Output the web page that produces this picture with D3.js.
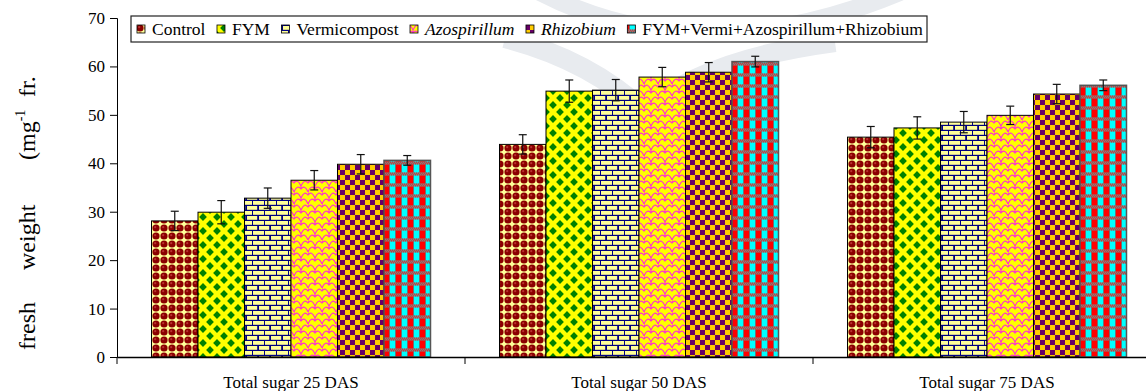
<!DOCTYPE html>
<html><head><meta charset="utf-8">
<script src="https://cdn.jsdelivr.net/npm/d3@7"></script>
<style>
html,body{margin:0;padding:0;background:#fff;}
svg{display:block;}
svg text{font-family:"Liberation Serif","Times New Roman",serif;}
</style></head>
<body><svg id="c" width="1146" height="391"></svg>
<script>
// ---------- data ----------
const categories = ["Total sugar 25 DAS", "Total sugar 50 DAS", "Total sugar 75 DAS"];
const treatments = ["Control", "FYM", "Vermicompost", "Azospirillum", "Rhizobium", "FYM+Vermi+Azospirillum+Rhizobium"];
const controlVals = [28.1, 43.9, 45.4];
const fymVals     = [29.9, 54.9, 47.3];
const vermiVals   = [32.8, 55.1, 48.5];
const azoVals     = [36.5, 57.8, 49.9];
const rhizoVals   = [39.8, 58.8, 54.3];
const comboVals   = [40.6, 61.0, 56.1];
const controlErr = [2.0, 2.0, 2.2];
const fymErr     = [2.4, 2.3, 2.3];
const vermiErr   = [2.1, 2.2, 2.2];
const azoErr     = [2.0, 2.0, 1.9];
const rhizoErr   = [2.0, 2.0, 2.0];
const comboErr   = [1.0, 1.1, 1.1];
const yTicks = [0, 10, 20, 30, 40, 50, 60, 70];

const seriesVals = [controlVals, fymVals, vermiVals, azoVals, rhizoVals, comboVals];
const seriesErr = [controlErr, fymErr, vermiErr, azoErr, rhizoErr, comboErr];
const italicFlags = [false, false, false, true, true, false];
const FONT = "Liberation Serif, Times New Roman, serif";

const svg = d3.select("#c");

// ---------- patterns ----------
const defs = svg.append("defs");
function pat(id, w, h) {
  return defs.append("pattern").attr("id", id).attr("patternUnits", "userSpaceOnUse")
    .attr("width", w).attr("height", h);
}
// Control: maroon balls on light yellow
{
  const p = pat("p0", 8, 8);
  p.append("rect").attr("width", 8).attr("height", 8).attr("fill", "#FFFF99");
  p.append("circle").attr("cx", 4).attr("cy", 4).attr("r", 3.6).attr("fill", "#8B0000");
  p.append("circle").attr("cx", 3.2).attr("cy", 3.2).attr("r", 1.1).attr("fill", "#B83030");
}
// FYM: green diamonds on yellow
{
  const p = pat("p1", 14, 14);
  p.append("rect").attr("width", 14).attr("height", 14).attr("fill", "#FFFF00");
  const s = 3.9;
  const dia = (cx, cy) => `M${cx},${cy - s}L${cx + s},${cy}L${cx},${cy + s}L${cx - s},${cy}Z`;
  p.append("path").attr("d", dia(7, 7) + dia(0, 0) + dia(14, 0) + dia(0, 14) + dia(14, 14)).attr("fill", "#008000");
}
// Vermicompost: bricks
{
  const p = pat("p2", 12, 10);
  p.append("rect").attr("width", 12).attr("height", 10).attr("fill", "#000080");
  p.append("rect").attr("x", 1).attr("y", 1).attr("width", 11).attr("height", 3.8).attr("fill", "#FFFF99");
  p.append("rect").attr("x", -5).attr("y", 6).attr("width", 10.2).attr("height", 3.8).attr("fill", "#FFFF99");
  p.append("rect").attr("x", 7).attr("y", 6).attr("width", 11).attr("height", 3.8).attr("fill", "#FFFF99");
}
// Azospirillum: magenta scales on yellow
{
  const p = pat("p3", 14, 12);
  p.append("rect").attr("width", 14).attr("height", 12).attr("fill", "#FFFF00");
  p.append("path").attr("d", "M0,12 Q3.5,4 7,9 Q10.5,4 14,12 M-7,6 Q-3.5,-2 0,3 Q3.5,-2 7,6 Q10.5,-2 14,3 Q17.5,-2 21,6 M0,3 L0,0 M7,9 L7,6")
    .attr("fill", "none").attr("stroke", "#FF33CC").attr("stroke-width", 1.2);
}
// Rhizobium: checkerboard
{
  const p = pat("p4", 10, 10);
  p.append("rect").attr("width", 10).attr("height", 10).attr("fill", "#FFCC00");
  p.append("rect").attr("width", 5).attr("height", 5).attr("fill", "#660066");
  p.append("rect").attr("x", 5).attr("y", 5).attr("width", 5).attr("height", 5).attr("fill", "#660066");
}
// Combo: red / cyan with grey bands
{
  const p = pat("p5", 12, 11);
  p.append("rect").attr("width", 12).attr("height", 11).attr("fill", "#FF0000");
  p.append("rect").attr("x", 6).attr("width", 5).attr("height", 11).attr("fill", "#00FFFF");
  p.append("rect").attr("x", 5).attr("width", 1).attr("height", 11).attr("fill", "#707070");
  p.append("rect").attr("x", 11).attr("width", 1).attr("height", 11).attr("fill", "#707070");
  p.append("rect").attr("y", 7.5).attr("width", 12).attr("height", 3).attr("fill", "#808080");
  for (let i = 0; i < 12; i++) {
    p.append("rect").attr("x", i).attr("y", 7.5 + (i % 2) * 1.5).attr("width", 1).attr("height", 1.5).attr("fill", "#C04040");
  }
}

// ---------- watermark (faint) ----------
const wm = svg.append("g").attr("fill", "none").attr("stroke", "#E8EBEF");
wm.append("path").attr("d", "M540,-8 Q700,75 900,-8").attr("stroke-width", 18);
wm.append("path").attr("d", "M505,38 Q590,60 645,112 Q700,60 835,42").attr("stroke-width", 20);

// ---------- scales ----------
const x0 = d3.scaleBand().domain(categories).range([117, 1161]).padding(0);
const x1 = d3.scaleBand().domain(d3.range(treatments.length)).range([0, x0.bandwidth()])
  .paddingInner(0).paddingOuter(0.742);
const y = d3.scaleLinear().domain([0, 70]).range([357, 18]);

// ---------- bars ----------
const strokes = ["#000", "#000", "#000", "#000", "#000", "#555"];
const gBars = svg.append("g");
categories.forEach((cat, ci) => {
  treatments.forEach((t, si) => {
    const v = seriesVals[si][ci];
    gBars.append("rect")
      .attr("x", x0(cat) + x1(si))
      .attr("y", y(v))
      .attr("width", x1.bandwidth())
      .attr("height", y(0) - y(v))
      .attr("fill", `url(#p${si})`)
      .attr("stroke", strokes[si])
      .attr("stroke-width", si === 5 ? 1.5 : 1);
  });
});
// error bars
const gErr = svg.append("g").attr("stroke", "#111").attr("stroke-width", 1.2);
categories.forEach((cat, ci) => {
  treatments.forEach((t, si) => {
    const v = seriesVals[si][ci], e = seriesErr[si][ci];
    const cx = x0(cat) + x1(si) + x1.bandwidth() / 2;
    gErr.append("line").attr("x1", cx).attr("x2", cx).attr("y1", y(v + e)).attr("y2", y(v - e));
    gErr.append("line").attr("x1", cx - 4).attr("x2", cx + 4).attr("y1", y(v + e)).attr("y2", y(v + e));
    gErr.append("line").attr("x1", cx - 4).attr("x2", cx + 4).attr("y1", y(v - e)).attr("y2", y(v - e));
  });
});

// ---------- axes ----------
const yAxis = svg.append("g").attr("transform", "translate(117,0)")
  .call(d3.axisLeft(y).tickValues(yTicks).tickSize(7).tickPadding(5));
yAxis.attr("font-family", FONT);
yAxis.select(".domain").attr("stroke", "#000");
yAxis.selectAll("text").attr("font-size", 17).attr("font-family", FONT).attr("fill", "#000");

const xAxis = svg.append("g").attr("transform", "translate(0,357)")
  .call(d3.axisBottom(x0).tickSize(0).tickPadding(0));
xAxis.attr("font-family", FONT);
xAxis.select(".domain").attr("stroke", "#000").attr("stroke-width", 1.5);
xAxis.selectAll("text").attr("font-size", 17).attr("font-family", FONT).attr("fill", "#000")
  .attr("y", 31).attr("dy", 0);
// category boundary ticks
const bounds = categories.map(c => x0(c));
svg.append("g").selectAll("line").data(bounds).join("line")
  .attr("x1", d => d).attr("x2", d => d).attr("y1", 357).attr("y2", 364).attr("stroke", "#000");

// ---------- y label ----------
const yl = svg.append("g").attr("transform", "translate(35,350) rotate(-90)")
  .attr("font-size", 24).attr("font-family", FONT).attr("fill", "#000");
yl.append("text").attr("x", 0).text("fresh");
yl.append("text").attr("x", 80).text("weight");
const mg = yl.append("text").attr("x", 190);
mg.append("tspan").text("(mg");
mg.append("tspan").attr("font-size", 14).attr("dy", -10).text("-1");
yl.append("text").attr("x", 253).text("fr.");

// ---------- legend ----------
const lg = svg.append("g").attr("font-family", FONT);
lg.append("rect").attr("x", 131).attr("y", 16).attr("width", 796).attr("height", 26)
  .attr("fill", "#fff").attr("stroke", "#222").attr("stroke-width", 1.2);
let lx = 137;
treatments.forEach((t, si) => {
  lg.append("rect").attr("x", lx).attr("y", 25).attr("width", 8).attr("height", 8)
    .attr("fill", `url(#p${si})`).attr("stroke", "#000").attr("stroke-width", 0.8);
  const tx = lg.append("text").attr("x", lx + 15).attr("y", 35).attr("font-size", 17.5)
    .attr("font-family", FONT)
    .attr("font-style", italicFlags[si] ? "italic" : "normal").attr("fill", "#000").text(t);
  lx += 15 + tx.node().getComputedTextLength() + 11.5;
});
</script></body></html>
